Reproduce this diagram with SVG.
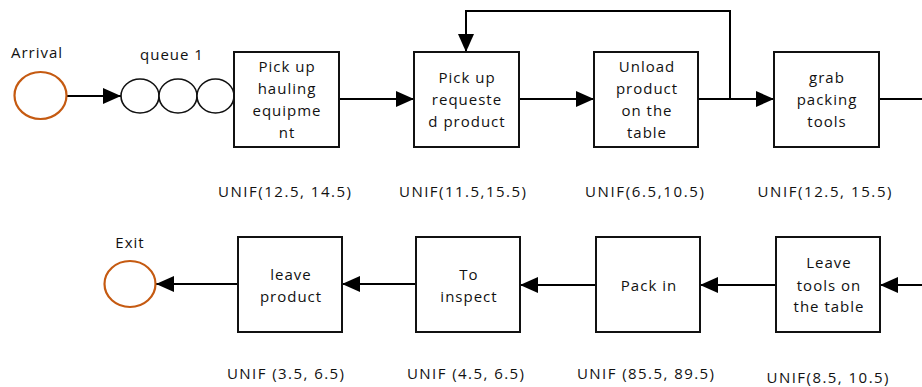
<svg xmlns="http://www.w3.org/2000/svg" width="922" height="387" viewBox="0 0 922 387">
<style>
text{font-family:"Open Sans","Noto Sans","Liberation Sans",sans-serif;font-size:15px;fill:#111;letter-spacing:1px;text-anchor:middle}
.box{fill:#fff;stroke:#111;stroke-width:2}
.term{fill:#fff;stroke:#c55a11;stroke-width:2.2}
.q{fill:#fff;stroke:#111;stroke-width:1.6}
.conn{fill:none;stroke:#000;stroke-width:2}
</style>
<defs>
<marker id="ah" viewBox="0 0 18 16" refX="18" refY="8" markerWidth="18" markerHeight="16" markerUnits="userSpaceOnUse" orient="auto">
<path d="M0,0 L18,8 L0,16 Z" fill="#000"/>
</marker>
</defs>
<rect width="922" height="387" fill="#fff"/>
<g id="connectors">
<line class="conn" x1="67" y1="96" x2="121" y2="96" marker-end="url(#ah)"/>
<line class="conn" x1="339" y1="99" x2="414" y2="99" marker-end="url(#ah)"/>
<line class="conn" x1="519" y1="99" x2="594" y2="99" marker-end="url(#ah)"/>
<line class="conn" x1="698" y1="99" x2="774" y2="99" marker-end="url(#ah)"/>
<polyline class="conn" points="730,99 730,11 466,11 466,52" marker-end="url(#ah)"/>
<line class="conn" x1="879" y1="99" x2="922" y2="99"/>
<line class="conn" x1="922" y1="285" x2="880" y2="285" marker-end="url(#ah)"/>
<line class="conn" x1="776" y1="285" x2="700" y2="285" marker-end="url(#ah)"/>
<line class="conn" x1="596" y1="285" x2="520" y2="285" marker-end="url(#ah)"/>
<line class="conn" x1="416" y1="284" x2="342" y2="284" marker-end="url(#ah)"/>
<line class="conn" x1="238" y1="284" x2="156" y2="284" marker-end="url(#ah)"/>
</g>
<g id="arrival">
<ellipse class="term" cx="40.5" cy="95.5" rx="26" ry="23.5"/>
<text x="37" y="58">Arrival</text>
</g>
<g id="queue1">
<ellipse class="q" cx="140" cy="96" rx="19" ry="17"/>
<ellipse class="q" cx="178" cy="96" rx="19" ry="17"/>
<ellipse class="q" cx="215.5" cy="96" rx="18.5" ry="17"/>
<text x="172" y="60">queue 1</text>
</g>
<g id="pick-hauling">
<rect class="box" x="234" y="52" width="105" height="95"/>
<text x="287" y="72">Pick up</text>
<text x="287" y="94">hauling</text>
<text x="287" y="116">equipme</text>
<text x="287" y="138">nt</text>
<text x="285" y="197" textLength="134" lengthAdjust="spacing">UNIF(12.5, 14.5)</text>
</g>
<g id="pick-requested">
<rect class="box" x="414" y="52" width="105" height="95"/>
<text x="467" y="83">Pick up</text>
<text x="467" y="105">requeste</text>
<text x="467" y="127">d product</text>
<text x="463" y="197" textLength="128" lengthAdjust="spacing">UNIF(11.5,15.5)</text>
</g>
<g id="unload">
<rect class="box" x="594" y="52" width="104" height="95"/>
<text x="647" y="72">Unload</text>
<text x="647" y="94">product</text>
<text x="647" y="116">on the</text>
<text x="647" y="138">table</text>
<text x="645" y="197" textLength="120" lengthAdjust="spacing">UNIF(6.5,10.5)</text>
</g>
<g id="grab-tools">
<rect class="box" x="774" y="52" width="105" height="95"/>
<text x="827" y="83">grab</text>
<text x="827" y="105">packing</text>
<text x="827" y="127">tools</text>
<text x="825" y="197" textLength="135" lengthAdjust="spacing">UNIF(12.5, 15.5)</text>
</g>
<g id="leave-tools">
<rect class="box" x="776" y="237" width="104" height="95"/>
<text x="829" y="268">Leave</text>
<text x="829" y="291">tools on</text>
<text x="829" y="312">the table</text>
<text x="828" y="383" textLength="123" lengthAdjust="spacing">UNIF(8.5, 10.5)</text>
</g>
<g id="pack-in">
<rect class="box" x="596" y="237" width="104" height="95"/>
<text x="649" y="291">Pack in</text>
<text x="646" y="379" textLength="138" lengthAdjust="spacing">UNIF (85.5, 89.5)</text>
</g>
<g id="inspect">
<rect class="box" x="416" y="237" width="104" height="95"/>
<text x="469" y="280">To</text>
<text x="469" y="302">inspect</text>
<text x="466" y="379" textLength="118" lengthAdjust="spacing">UNIF (4.5, 6.5)</text>
</g>
<g id="leave-product">
<rect class="box" x="238" y="237" width="104" height="95"/>
<text x="291" y="280">leave</text>
<text x="291" y="302">product</text>
<text x="286" y="379" textLength="118" lengthAdjust="spacing">UNIF (3.5, 6.5)</text>
</g>
<g id="exit">
<ellipse class="term" cx="130" cy="284" rx="25.5" ry="23"/>
<text x="130" y="248">Exit</text>
</g>
</svg>
